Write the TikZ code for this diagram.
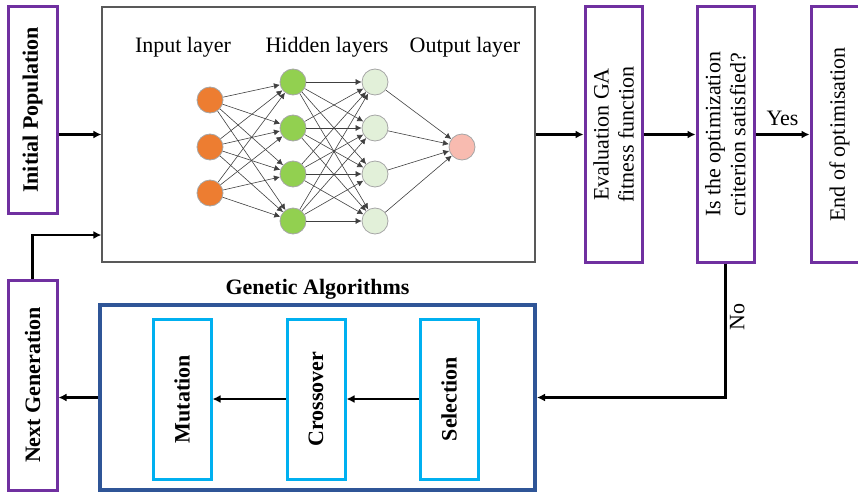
\documentclass[tikz,border=0pt]{standalone}
\usepackage{fontspec}
\setmainfont{Liberation Serif}
\usepackage{xcolor}
\definecolor{purp}{RGB}{112,48,160}
\definecolor{gablue}{RGB}{47,85,151}
\definecolor{stepcyan}{RGB}{0,176,240}
\definecolor{inorange}{RGB}{237,125,49}
\definecolor{hidgreen}{RGB}{146,208,80}
\definecolor{hidpale}{RGB}{226,240,217}
\definecolor{outpink}{RGB}{248,187,176}
\usetikzlibrary{arrows.meta}
\usetikzlibrary{positioning}

\begin{document}
\begin{tikzpicture}[x=1pt,y=-1pt,font=\fontsize{22}{25}\selectfont,
	pbox/.style={draw=purp, line width=3pt, minimum width=49pt},
	vtext/.style={rotate=90, align=center},
	stepbox/.style={draw=stepcyan, line width=3pt, minimum width=58pt, minimum height=160pt},
	neuron/.style={circle, draw=black!35, line width=0.8pt, minimum size=26pt, inner sep=0pt},
	nnedge/.style={draw=black!75, line width=0.6pt, -{Latex[length=6pt,width=6pt]}},
	flow/.style={line width=2.4pt, -{Latex[length=8pt,width=8pt]}}]
		\useasboundingbox (0,0) rectangle (858,492);
		
		%left boxes
		\node[pbox, minimum height=206pt, label={[vtext]center:\textbf{Initial Population}}] (initpop) at (32.5,110) {};
		\node[pbox, minimum height=210pt, label={[vtext]center:\textbf{Next Generation}}] (nextgen) at (32.5,385) {};
		
		%neural network frame
		\node[draw=black!65, line width=1.2pt, minimum width=433pt, minimum height=255pt] (nnbox) at (318.5,134.5) {};
		\node (inlab) at (183,47) {Input layer};
		\node (hidlab) at (327,47) {Hidden layers};
		\node (outlab) at (465,47) {Output layer};
		
		%neurons
		\foreach \i/\y in {1/100,2/147,3/193}
		\node[neuron, fill=inorange] (in\i) at (210,\y) {};
		\foreach \i/\y in {1/82,2/128,3/174,4/221}
		{
		\node[neuron, fill=hidgreen] (ha\i) at (293,\y) {};
		\node[neuron, fill=hidpale] (hb\i) at (375,\y) {};
		}
		\node[neuron, fill=outpink] (out) at (462,147) {};
		
		%weights
		\foreach \i in {1,...,3}
		\foreach \j in {1,...,4}
		\draw[nnedge] (in\i) -- (ha\j);
		\foreach \i in {1,...,4}
		\foreach \j in {1,...,4}
		\draw[nnedge] (ha\i) -- (hb\j);
		\foreach \i in {1,...,4}
		\draw[nnedge] (hb\i) -- (out);
		
		%right boxes
		\node[pbox, minimum width=57pt, minimum height=255pt, label={[vtext]center:Evaluation GA\\fitness function}] (evalga) at (613.5,134.5) {};
		\node[pbox, minimum width=57pt, minimum height=255pt, label={[vtext]center:Is the optimization\\criterion satisfied?}] (isopt) at (725.5,134.5) {};
		\node[pbox, minimum width=57pt, minimum height=255pt, label={[vtext]center:End of optimisation}] (endopt) at (839.5,134.5) {};
		
		%genetic algorithms
		\node[draw=gablue, line width=4pt, minimum width=435pt, minimum height=185pt,
			label={[inner sep=3pt]above:\textbf{Genetic Algorithms}}] (gabox) at (317.5,397.5) {};
		\node[stepbox, label={[vtext]center:\textbf{Mutation}}] (mutation) at (182,399) {};
		\node[stepbox, label={[vtext]center:\textbf{Crossover}}] (crossover) at (316,399) {};
		\node[stepbox, label={[vtext]center:\textbf{Selection}}] (selection) at (449,399) {};
		
		%arrows
		\draw[flow] (initpop.east |- nnbox.west) -- (nnbox.west);
		\draw[flow] (nextgen.north) |- (nnbox.west |- 0,235);
		\draw[flow] (nnbox.east) -- (evalga.west);
		\draw[flow] (evalga.east) -- (isopt.west);
		\draw[flow] (isopt.east) -- node[above=4pt] {Yes} (endopt.west);
		\draw[flow] (isopt.south) |- node[pos=0.2, rotate=90, anchor=north] {No} (gabox.east);
		\draw[flow] (selection.west) -- (crossover.east);
		\draw[flow] (crossover.west) -- (mutation.east);
		\draw[flow] (gabox.west) -- (gabox.west -| nextgen.east);
\end{tikzpicture}
\end{document}
